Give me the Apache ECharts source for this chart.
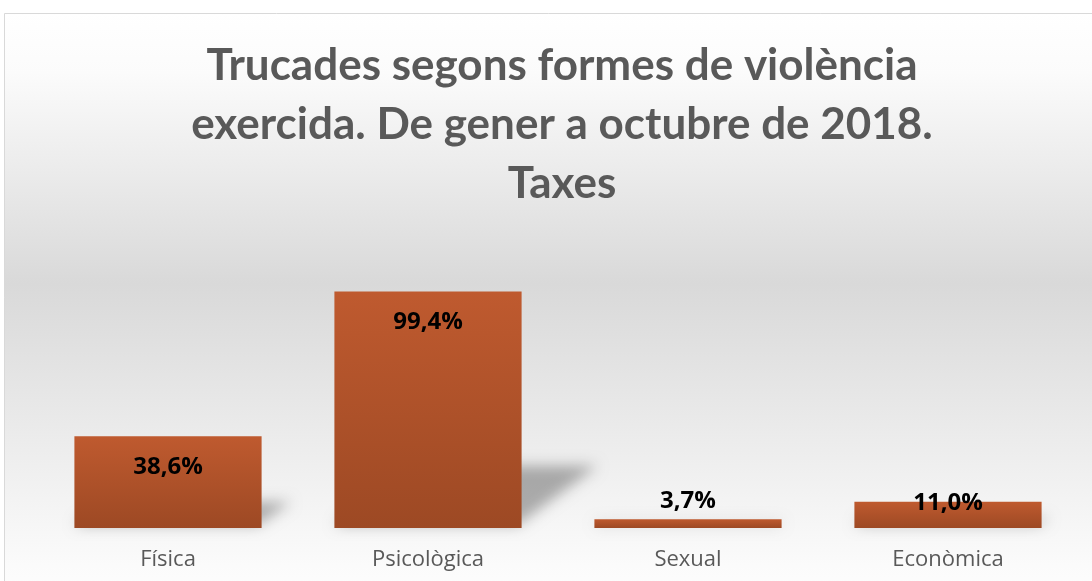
<!DOCTYPE html>
<html style="height: 100%">
<head>
	<meta charset="utf-8">
</head>
<body style="height: 100%; margin: 0; background: #ffffff">
<div id="container" style="width: 1092px; height: 581px"></div>
<script type="text/javascript" src="https://cdn.jsdelivr.net/npm/echarts@6/dist/echarts.min.js"></script>
<script type="text/javascript">
    var categories = ['Física', 'Psicològica', 'Sexual', 'Econòmica'];
    var rates = [38.6, 99.4, 3.7, 11.0];
    var titleLines = ['Trucades segons formes de violència', 'exercida. De gener a octubre de 2018.', 'Taxes'];

    var dom = document.getElementById("container");
    var myChart = echarts.init(dom);

    var barData = rates.map(function (v) {
        var item = { value: v };
        if (v < 5) {
            item.label = { position: 'top', distance: 6 };
        } else if (v < 20) {
            item.label = { position: 'top', distance: -13 };
        }
        return item;
    });

    // soft perspective shadow cast to the right of each bar.
    // the shape itself is drawn off-canvas, only its blurred shadow lands in view
    var OFF = 3000;
    function renderShadow(params, api) {
        var base = api.coord([api.value(0), 0]);
        var top = api.coord([api.value(0), api.value(1)]);
        var w = api.size([1, 0])[0] * 0.72;
        var h = base[1] - top[1];
        var x0 = base[0] - w / 2 - OFF, x1 = base[0] + w / 2 - OFF, yb = base[1] - 3;
        var dy = h * 0.25, dx = h * 0.32;
        return {
            type: 'polygon',
            shape: {
                points: [[x0, yb], [x1 - 4, yb], [x1 + dx, yb - dy], [x0 + dx, yb - dy]]
            },
            style: {
                fill: '#000',
                shadowBlur: 14,
                shadowOffsetX: OFF,
                shadowColor: 'rgba(0,0,0,0.3)'
            }
        };
    }

    var option = {
        backgroundColor: '#ffffff',
        textStyle: { fontFamily: 'Lato' },
        graphic: [{
            type: 'rect',
            z: -10,
            silent: true,
            shape: { x: 4.5, y: 13.5, width: 1100, height: 600 },
            style: {
                fill: new echarts.graphic.LinearGradient(0, 0, 0, 1, [
                    { offset: 0, color: '#ffffff' },
                    { offset: 0.1, color: '#fbfbfb' },
                    { offset: 0.45, color: '#d9d9d9' },
                    { offset: 0.92, color: '#fbfbfb' },
                    { offset: 1, color: '#ffffff' }
                ]),
                stroke: '#d9d9d9',
                lineWidth: 1
            }
        }],
        title: {
            text: titleLines.join('\n'),
            left: 557,
            textAlign: 'center',
            top: 31,
            textStyle: {
                fontFamily: 'Lato',
                fontSize: 44,
                fontWeight: 'bold',
                color: '#595959',
                lineHeight: 59
            }
        },
        grid: {
            left: 38,
            right: 14,
            top: 290,
            bottom: 53,
            containLabel: false
        },
        xAxis: {
            type: 'category',
            data: categories,
            axisLine: { show: false },
            axisTick: { show: false },
            axisLabel: {
                margin: 21,
                fontSize: 22,
                color: '#595959',
                fontFamily: 'Open Sans'
            }
        },
        yAxis: {
            type: 'value',
            min: 0,
            max: 100,
            show: false,
            splitLine: { show: false }
        },
        series: [{
            type: 'custom',
            z: 1,
            silent: true,
            clip: false,
            renderItem: renderShadow,
            data: rates.map(function (v, i) { return [i, v]; })
        }, {
            type: 'bar',
            z: 2,
            data: barData,
            barCategoryGap: '28%',
            itemStyle: {
                color: new echarts.graphic.LinearGradient(0, 0, 0, 1, [
                    { offset: 0, color: '#bf5a2f' },
                    { offset: 1, color: '#9d4924' }
                ])
            },
            label: {
                show: true,
                position: 'insideTop',
                distance: 19,
                color: '#000000',
                fontSize: 24,
                fontWeight: 'bold',
                fontFamily: 'Open Sans',
                formatter: function (p) {
                    return p.value.toFixed(1).replace('.', ',') + '%';
                }
            }
        }]
    };

    myChart.setOption(option, true);
</script>
</body>
</html>
